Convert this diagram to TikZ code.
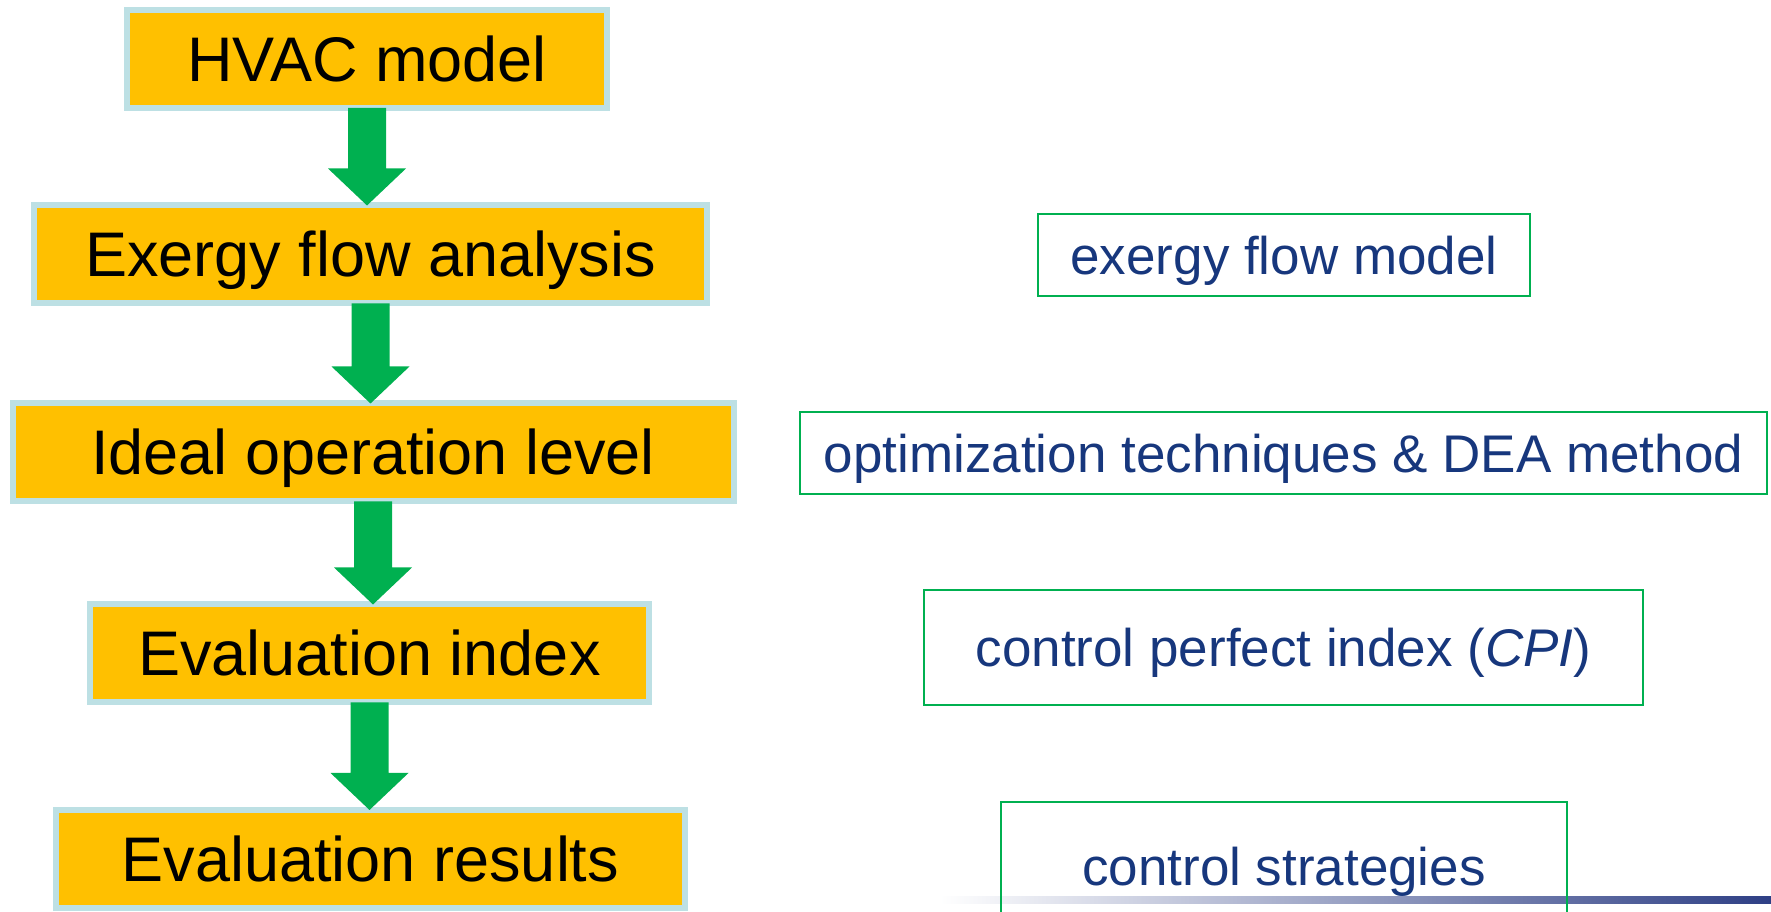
\documentclass[tikz,border=0pt]{standalone}
\usepackage{fontspec}
\setmainfont{Liberation Sans}

\definecolor{boxorange}{HTML}{FFC000}
\definecolor{boxedge}{RGB}{189,224,228}
\definecolor{arrowgreen}{HTML}{00B050}
\definecolor{noteblue}{RGB}{23,55,125}
\definecolor{barblue}{RGB}{46,63,133}

\tikzset{
  mainbox/.style={draw=boxedge, fill=boxorange, line width=6pt, inner sep=0pt,
    minimum height=98pt, text height=45pt, text depth=0pt,
    font=\fontsize{63}{75}\selectfont},
  notebox/.style={draw=arrowgreen, line width=2pt, inner sep=0pt, text=noteblue,
    text height=39pt, text depth=0pt, font=\fontsize{53}{64}\selectfont}
}

\begin{document}
\begin{tikzpicture}[x=1pt,y=1pt]
\useasboundingbox (0,0) rectangle (1771,912);

% bar at the bottom
\shade[left color=white, right color=barblue] (940,8) rectangle (1771,15);

% steps on the left
\node[mainbox, minimum width=480pt] (hvac) at (367,853) {HVAC model};
\node[mainbox, minimum width=673pt] (exergy) at (370.5,657.5) {Exergy flow analysis};
\node[mainbox, minimum width=721pt] (ideal) at (373,459.5) {Ideal operation level};
\node[mainbox, minimum width=559pt] (evalidx) at (369.5,258.5) {Evaluation index};
\node[mainbox, minimum width=629pt] (evalres) at (370.5,53) {Evaluation results};

% notes on the right
\node[notebox, minimum width=492pt, minimum height=82pt] (flowmodel) at (1284,657) {exergy flow model\ };
\node[notebox, minimum width=967pt, minimum height=82pt] (optim) at (1283.5,459) {optimization techniques \& DEA method};
\node[notebox, minimum width=719pt, minimum height=115pt] (cpi) at (1283.5,264.5) {control perfect index (\textit{CPI})};
\node[notebox, minimum width=566pt, minimum height=128pt] (strategies) at (1284,46) {control strategies};

% block arrows
\foreach \a/\b in {hvac/exergy, exergy/ideal, ideal/evalidx, evalidx/evalres}{
  \coordinate (top) at ([yshift=3pt]\a.south);
  \coordinate (tip) at (top |- \b.north);
  \fill[arrowgreen] ([xshift=-19pt]top) -- ([shift={(-19pt,34pt)}]tip)
    -- ([shift={(-39pt,34pt)}]tip) -- ([yshift=-3pt]tip)
    -- ([shift={(39pt,34pt)}]tip) -- ([shift={(19pt,34pt)}]tip)
    -- ([xshift=19pt]top) -- cycle;
}
\end{tikzpicture}
\end{document}
